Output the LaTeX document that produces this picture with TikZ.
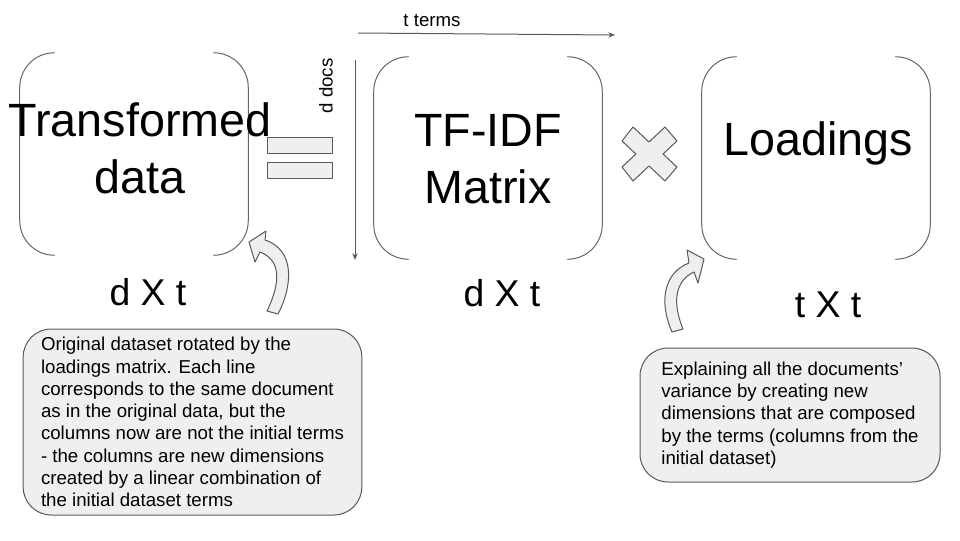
\documentclass[tikz,border=0pt]{standalone}
\usepackage{fontspec}
\setmainfont{Liberation Sans}
\usetikzlibrary{calc,arrows.meta}

\definecolor{linegray}{HTML}{666666}
\definecolor{edgegray}{HTML}{595959}
\definecolor{fillgray}{HTML}{EFEFEF}

\tikzset{
    matbox/.style={minimum width=171pt, minimum height=151.5pt, inner sep=0pt},
    bracket/.style={draw=linegray, line width=0.75pt, rounded corners=26pt},
    bigtext/.style={font=\fontsize{35}{42.5}\selectfont, align=center, inner sep=0pt},
    dimtext/.style={font=\fontsize{28}{34}\selectfont, inner sep=0pt, anchor=base},
    smalltext/.style={font=\fontsize{14}{17}\selectfont, inner sep=0pt},
    callout/.style={draw=edgegray, fill=fillgray, line width=0.75pt, rounded corners=21pt,
        align=left, font=\fontsize{14}{16.7}\selectfont, inner sep=0pt},
    blockshape/.style={draw=edgegray, fill=fillgray, line width=0.75pt, line join=round},
    axisarrow/.style={draw=edgegray, line width=0.75pt, -{Stealth[length=5pt,width=4pt]}}
}

\begin{document}
\begin{tikzpicture}[x=0.75pt, y=-0.75pt]
        \useasboundingbox (0,0) rectangle (960,540);

        % the three matrices
        \node[matbox] (trans) at (134,154) {};
        \node[matbox] (tfidf) at (488,158) {};
        \node[matbox] (load) at (816,158) {};
        \foreach \m in {trans,tfidf,load}
            {
                \draw[bracket] ($(\m.north west)+(35,0)$) -- (\m.north west) -- (\m.south west) -- ($(\m.south west)+(35,0)$);
                \draw[bracket] ($(\m.north east)+(-35,0)$) -- (\m.north east) -- (\m.south east) -- ($(\m.south east)+(-35,0)$);
            }

        \node[bigtext] (transtext) at (140,148) {Transformed\\data};
        \node[bigtext] (tfidftext) at (488,159) {TF-IDF\\Matrix};
        \node[bigtext, anchor=base] (loadtext) at (818,155) {Loadings};

        \node[dimtext] (transdim) at (148,305) {d X t};
        \node[dimtext] (tfidfdim) at (502,306) {d X t};
        \node[dimtext] (loaddim) at (828,317) {t X t};

        % equals and times
        \draw[blockshape] (267,137) rectangle (332,153);
        \draw[blockshape] (267,162) rectangle (332,178);
        \draw[blockshape] (622,141) -- (633,127) -- (649,142) -- (665,127) -- (677,141) -- (663,154)
            -- (677,167) -- (665,181) -- (649,166) -- (633,181) -- (622,167) -- (636,154) -- cycle;

        % axes of the tf-idf matrix
        \coordinate (termsstart) at (358,33);
        \coordinate (termsend) at (615,35);
        \draw[axisarrow] (termsstart) -- (termsend);
        \node[smalltext] (terms) at (432,21) {t terms};

        \coordinate (docsstart) at (355,60);
        \coordinate (docsend) at (355,260);
        \draw[axisarrow] (docsstart) -- (docsend);
        \node[smalltext, rotate=90] (docs) at (326,86) {d docs};

        % notes
        \node[callout, minimum width=254pt, minimum height=139.5pt] (transnote) at (192.5,422)
            {Original dataset rotated by the\\
             loadings matrix. Each line\\
             corresponds to the same document\\
             as in the original data, but the\\
             columns now are not the initial terms\\
             - the columns are new dimensions\\
             created by a linear combination of\\
             the initial dataset terms};
        \node[callout, minimum width=225pt, minimum height=100.5pt] (loadnote) at (790,415)
            {Explaining all the documents’\\
             variance by creating new\\
             dimensions that are composed\\
             by the terms (columns from the\\
             initial dataset)};

        % bent arrows from the notes
        \draw[blockshape] (249,242) -- (266,231) -- (265,240) .. controls (295,250) and (293,285) .. (278,314)
            -- (267,311) .. controls (281,282) and (281,260) .. (260,252) -- (255,262) -- cycle;
        \draw[blockshape] (704,259) -- (687,250) -- (689,263) .. controls (665,272) and (658,300) .. (672,332)
            -- (683,329) .. controls (672,302) and (675,281) .. (694,272) -- (698,283) -- cycle;
    \end{tikzpicture}
\end{document}
